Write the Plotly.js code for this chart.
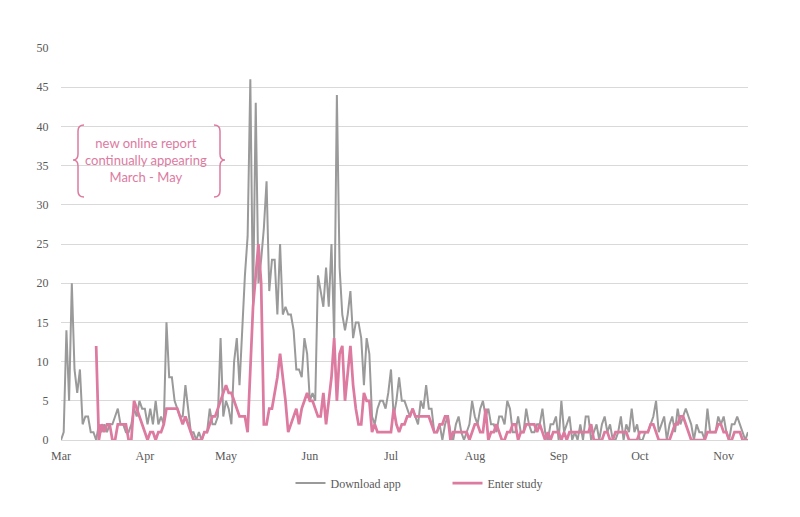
<!DOCTYPE html>
<html>
<head>
<meta charset="utf-8">
<script src="https://cdn.plot.ly/plotly-3.0.1.min.js"></script>
<style>html,body{margin:0;padding:0;background:#fff}#chart{width:800px;height:517px}</style>
</head>
<body>
<div id="chart"></div>
<script>
// Daily series, first value = 1 March
const downloadStart = '2020-03-01';
const downloadApp = [
 0,1,14,5,20,9,6,9,2,3,
 3,1,1,0,2,1,2,1,2,2,
 3,4,2,2,1,1,2,4,3,5,
 4,4,2,4,2,5,2,3,2,15,
 8,8,5,4,3,3,7,4,1,1,
 0,1,0,1,1,4,2,2,3,13,
 3,5,4,2,10,13,7,14,21,26,
 46,17,43,20,23,27,33,19,23,23,
 16,25,16,17,16,16,14,9,9,8,
 13,11,5,6,5,21,19,17,22,17,
 25,13,44,22,16,14,16,19,13,15,
 15,13,7,13,11,3,2,4,5,5,
 4,6,9,3,5,8,5,5,4,3,
 4,3,2,5,4,7,4,4,1,1,
 2,0,2,3,1,0,2,3,1,0,
 1,2,5,3,2,4,5,3,4,2,
 2,1,3,3,2,5,4,1,1,3,
 1,1,4,2,1,1,2,2,4,1,
 0,2,2,3,0,5,1,2,3,0,
 1,0,2,0,3,3,0,1,2,0,
 2,3,1,2,0,0,1,3,0,2,
 1,4,1,2,0,0,1,1,2,3,
 5,1,2,3,0,2,3,1,4,2,
 3,4,3,2,0,2,1,1,0,4,
 1,1,1,3,2,3,1,0,2,2,
 3,2,1,0,1
];
// Daily series, first value = 14 March
const enterStart = '2020-03-14';
const enterStudy = [
 12,0,2,1,2,2,0,0,2,2,2,2,0,0,5,4,3,
 2,1,0,1,1,0,1,1,2,4,4,4,4,4,3,2,3,2,1,0,
 0,0,0,1,1,2,3,3,4,5,6,7,6,6,5,4,3,3,3,1,
 9,17,21,25,20,2,2,4,4,6,8,11,8,5,1,2,3,4,2,4,
 5,6,5,5,4,3,3,6,2,5,8,13,5,11,12,5,9,12,7,4,
 2,2,6,5,5,1,2,1,1,1,1,1,1,4,2,1,2,2,3,3,
 4,3,3,3,3,3,3,2,1,1,2,2,3,3,0,1,1,1,1,1,
 1,0,1,2,2,1,1,4,0,1,1,2,1,0,0,1,1,2,2,0,
 1,1,2,2,2,2,1,2,1,0,1,0,1,1,1,0,1,0,1,1,
 1,1,1,1,1,1,2,0,0,0,0,1,1,0,0,1,1,1,1,1,
 0,0,0,0,1,1,1,1,2,2,1,0,0,0,0,0,1,2,2,3,
 3,2,1,0,0,0,0,0,0,1,1,1,1,2,2,1,1,0,0,1,
 1,1,0,0,0
];
const monthTicks = ['2020-03-01','2020-04-01','2020-05-01','2020-06-01','2020-07-01','2020-08-01','2020-09-01','2020-10-01','2020-11-01'];
const monthLabels = ['Mar','Apr','May','Jun','Jul','Aug','Sep','Oct','Nov'];
const seriesNames = ['Download app','Enter study'];
const noteText = 'new online report<br>continually appearing<br>March - May';

function datesFrom(start, n) {
  const out = [];
  const d0 = new Date(start + 'T00:00:00Z');
  for (let i = 0; i < n; i++) {
    const d = new Date(d0.getTime() + i * 86400000);
    out.push(d.toISOString().slice(0, 10));
  }
  return out;
}

const PINK = '#dd7aa0';
const GREY = '#9a9a9a';
const W = 800, H = 517, L = 61, R = 52, T = 48, B = 77;
const pw = W - L - R, ph = H - T - B;
const px = x => ((x - L) / pw).toFixed(5);
const py = y => ((H - B - y) / ph).toFixed(5);
function pathFrom(pts) {
  return pts.map(p => p[0] + ' ' + px(p[1]) + ',' + py(p[2]) + (p.length > 3 ? ' ' + px(p[3]) + ',' + py(p[4]) : '')).join(' ');
}
const leftBrace = pathFrom([
  ['M',84,125],['Q',78,125,78,131],['L',78,154],['Q',78,160,73,160],
  ['Q',78,160,78,166],['L',78,191],['Q',78,197,84,197]
]);
const rightBrace = pathFrom([
  ['M',214,125],['Q',220,125,220,131],['L',220,154],['Q',220,160,225,160],
  ['Q',220,160,220,166],['L',220,191],['Q',220,197,214,197]
]);

const traces = [
  {x: datesFrom(downloadStart, downloadApp.length), y: downloadApp, name: seriesNames[0], type: 'scatter', mode: 'lines',
   line: {color: GREY, width: 2}},
  {x: datesFrom(enterStart, enterStudy.length), y: enterStudy, name: seriesNames[1], type: 'scatter', mode: 'lines',
   line: {color: PINK, width: 2.75}}
];

const tickFont = {family: '"Liberation Serif", "Times New Roman", serif', size: 12, color: '#595959'};
const layout = {
  width: W, height: H,
  margin: {l: L, r: R, t: T, b: B},
  paper_bgcolor: '#ffffff', plot_bgcolor: '#ffffff',
  showlegend: true,
  legend: {orientation: 'h', x: +px(290.5), xanchor: 'left', y: -0.11, yanchor: 'middle',
           font: tickFont, itemwidth: 30, entrywidth: 112, entrywidthmode: 'pixels'},
  xaxis: {type: 'date', range: ['2020-03-01', '2020-11-10'], tickmode: 'array', tickvals: monthTicks, ticktext: monthLabels,
          showgrid: false, showline: true, linecolor: '#d9d9d9', linewidth: 1, zeroline: false,
          ticks: 'outside', ticklen: 5, tickcolor: 'rgba(0,0,0,0)', tickfont: tickFont},
  yaxis: {range: [0, 50], dtick: 5, tick0: 0, showgrid: true, gridcolor: '#d9d9d9', gridwidth: 1, zeroline: false,
          showline: false, ticks: 'outside', ticklen: 9, tickcolor: 'rgba(0,0,0,0)', tickfont: tickFont},
  shapes: [
    {type: 'path', xref: 'paper', yref: 'paper', path: leftBrace, line: {color: PINK, width: 1.5}},
    {type: 'path', xref: 'paper', yref: 'paper', path: rightBrace, line: {color: PINK, width: 1.5}}
  ],
  annotations: [
    {xref: 'paper', yref: 'paper', x: +px(146), y: +py(160), text: noteText, showarrow: false,
     xanchor: 'center', yanchor: 'middle', align: 'center',
     font: {family: 'Lato, "Open Sans", sans-serif', size: 13, color: PINK}}
  ]
};
Plotly.newPlot('chart', traces, layout, {displayModeBar: false, staticPlot: true});
</script>
</body>
</html>
